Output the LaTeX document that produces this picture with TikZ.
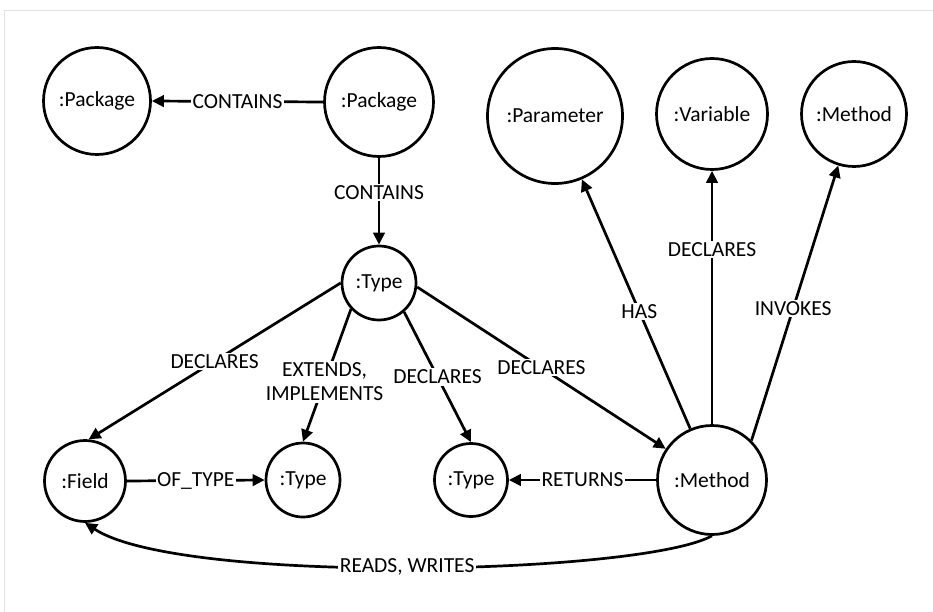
\documentclass[tikz,border=0pt]{standalone}
\usepackage{fontspec}
\setmainfont{Carlito}
\usetikzlibrary{arrows.meta}
\begin{document}
\begin{tikzpicture}[x=1pt,y=-1pt,
  every node/.style={font=\fontsize{21.5}{24}\selectfont},
  ent/.style={circle,draw,line width=2.7pt,inner sep=0pt},
  rel/.style={line width=2.7pt,-{Triangle[length=12pt,width=11.5pt]}},
  lab/.style={fill=white,inner sep=1.5pt,align=center}]
\useasboundingbox (0,0) rectangle (933,612);
\draw[gray!22, line width=1pt] (4.5,612) -- (4.5,10.5) -- (933,10.5);
% entities
\node[ent,minimum size=107pt] (pkgA) at (97,101) {:Package};
\node[ent,minimum size=109pt] (pkgB) at (379,102) {:Package};
\node[ent,minimum size=74pt] (type) at (379,283) {:Type};
\node[ent,minimum size=135pt] (param) at (555,116) {:Parameter};
\node[ent,minimum size=111pt] (var) at (712,114) {:Variable};
\node[ent,minimum size=105pt] (meth1) at (854,114) {:Method};
\node[ent,minimum size=81pt] (field) at (85,481) {:Field};
\node[ent,minimum size=74pt] (typeL) at (303,480) {:Type};
\node[ent,minimum size=73pt] (typeM) at (471,480) {:Type};
\node[ent,minimum size=109pt] (meth2) at (712,480) {:Method};
% relations
\draw[rel] (pkgB.west) -- node[lab] {CONTAINS} (pkgA.east);
\draw[rel] (pkgB.south) -- node[lab,pos=0.4] {CONTAINS} (type.north);
\draw[rel] (type.180) -- node[lab,pos=0.5] {DECLARES} (field.85);
\draw[rel] (type.223) -- node[lab,pos=0.55] {EXTENDS,\\IMPLEMENTS} (typeL.north);
\draw[rel] (type.311) -- node[lab,pos=0.5] {DECLARES} (typeM.north);
\draw[rel] (type.354) -- node[lab,pos=0.5] {DECLARES} (meth2.146);
\draw[rel] (field.east) -- node[lab] {OF\_TYPE} (typeL.west);
\draw[rel] (meth2.west) -- node[lab] {RETURNS} (typeM.east);
\draw[rel] (meth2.113) -- node[lab,pos=0.47] {HAS} (param.293);
\draw[rel] (meth2.north) -- node[lab,pos=0.69] {DECLARES} (var.south);
\draw[rel] (meth2.45) -- node[lab,pos=0.48] {INVOKES} (meth1.253);
\draw[rel] (meth2.south) .. controls (640,575) and (180,585) .. node[lab,pos=0.5] {READS, WRITES} (field.south);
\end{tikzpicture}
\end{document}
